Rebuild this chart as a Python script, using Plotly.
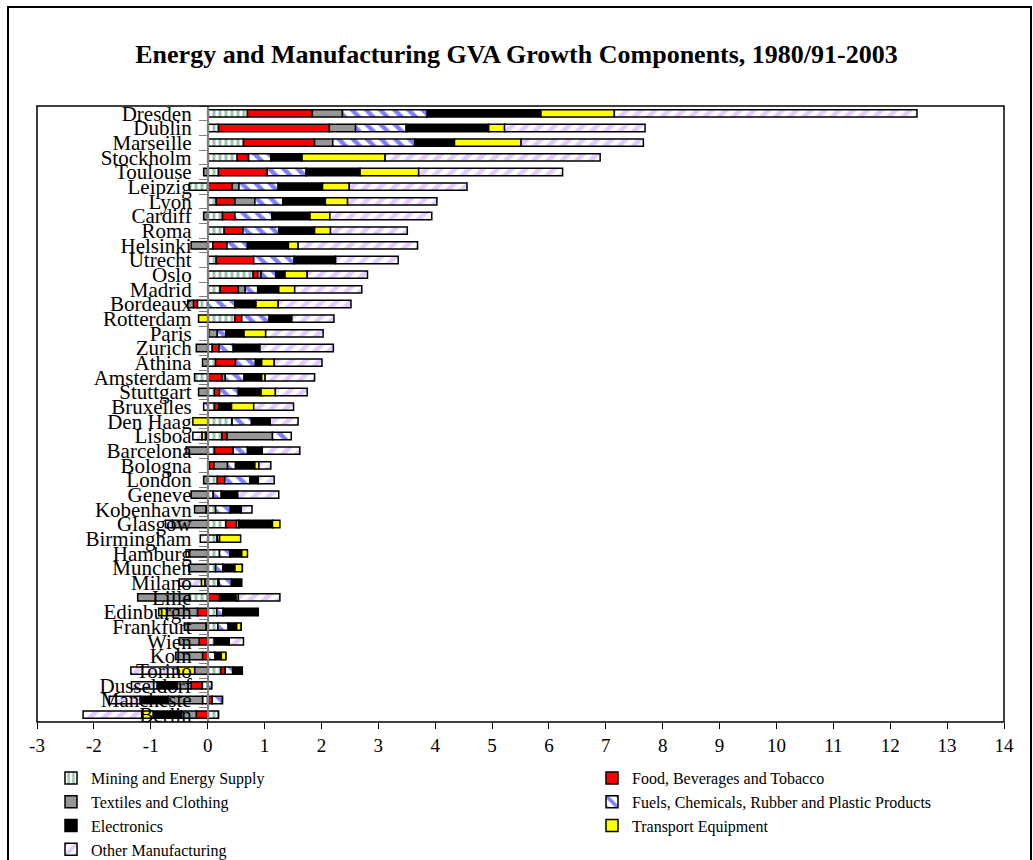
import plotly.graph_objects as go

cities = ["Dresden", "Dublin", "Marseille", "Stockholm", "Toulouse", "Leipzig", "Lyon", "Cardiff",
          "Roma", "Helsinki", "Utrecht", "Oslo", "Madrid", "Bordeaux", "Rotterdam", "Paris", "Zurich",
          "Athina", "Amsterdam", "Stuttgart", "Bruxelles", "Den Haag", "Lisboa", "Barcelona", "Bologna",
          "London", "Geneve", "Kobenhavn", "Glasgow", "Birmingham", "Hamburg", "Munchen", "Milano",
          "Lille", "Edinburgh", "Frankfurt", "Wien", "Koln", "Torino", "Dusseldorf", "Mancheste", "Berlin"]

mining = [0.70, 0.19, 0.63, 0.52, 0.19, -0.32, 0.15, 0.26, 0.29, 0.09, 0.15, 0.80, 0.22, -0.18, 0.48, 0.02,
          0.08, 0.14, -0.23, 0.12, 0.12, 0.43, 0.25, 0.12, 0.03, 0.17, 0.10, 0.14, 0.32, 0.17, 0.21, 0.14,
          0.18, -0.32, 0.16, 0.18, 0.12, 0.0, 0.23, -0.10, -0.09, 0.19]
food = [1.14, 1.95, 1.25, 0.20, 0.86, 0.43, 0.33, 0.22, 0.33, 0.25, 0.66, 0.08, 0.32, -0.07, 0.12, 0.0,
        0.12, 0.35, 0.25, 0.09, 0.08, 0.0, 0.09, 0.33, 0.08, 0.13, 0.0, -0.03, 0.19, 0.0, 0.0, 0.0,
        0.02, 0.21, -0.18, -0.03, -0.15, -0.09, 0.08, -0.19, 0.08, -0.20]
textiles = [0.53, 0.46, 0.32, 0.0, -0.07, 0.12, 0.35, -0.07, 0.0, -0.29, 0.0, 0.06, 0.12, -0.10, 0.0, 0.15,
            -0.20, -0.09, 0.06, -0.16, 0.0, 0.0, 0.80, -0.38, 0.24, -0.07, -0.29, -0.20, -0.62, 0.0, -0.32, -0.33,
            -0.05, -0.91, -0.53, -0.38, -0.35, -0.47, -0.23, -0.25, -0.60, -0.26]
fuels = [1.49, 0.89, 1.44, 0.39, 0.68, 0.69, 0.49, 0.65, 0.63, 0.36, 0.71, 0.26, 0.22, 0.48, 0.48, 0.15,
         0.25, 0.35, 0.33, 0.33, -0.07, 0.34, 0.33, 0.25, 0.14, 0.44, 0.14, 0.26, 0.04, 0.04, 0.18, 0.13,
         0.22, 0.0, 0.11, 0.18, 0.0, 0.13, 0.13, 0.07, 0.18, 0.0]
electronics = [2.00, 1.45, 0.70, 0.55, 0.95, 0.78, 0.75, 0.67, 0.63, 0.72, 0.73, 0.16, 0.37, 0.37, 0.40, 0.32,
               0.47, 0.11, 0.31, 0.40, 0.22, 0.33, -0.04, 0.26, 0.34, 0.15, 0.29, 0.19, 0.59, 0.0, 0.21, 0.21,
               0.18, 0.29, 0.62, 0.15, 0.26, 0.11, 0.17, -0.35, -0.50, -0.50]
transport = [1.29, 0.28, 1.17, 1.46, 1.03, 0.47, 0.39, 0.35, 0.28, 0.17, 0.0, 0.39, 0.28, 0.39, -0.16, 0.38,
             0.0, 0.22, 0.06, 0.25, 0.39, -0.26, -0.06, 0.0, 0.07, 0.0, 0.0, 0.0, 0.13, 0.37, 0.10, 0.13,
             -0.06, 0.04, -0.15, 0.08, 0.0, 0.08, -0.30, 0.0, 0.0, -0.20]
other = [5.32, 2.47, 2.15, 3.78, 2.53, 2.07, 1.57, 1.79, 1.35, 2.10, 1.10, 1.06, 1.18, 1.28, 0.74, 1.01,
         1.29, 0.84, 0.87, 0.56, 0.70, 0.49, -0.16, 0.66, 0.21, 0.28, 0.72, 0.19, -0.12, -0.13, -0.06, 0.0,
         -0.39, 0.73, 0.0, 0.0, 0.25, 0.0, -0.82, -0.45, -0.54, -1.03]

x_ticks = list(range(-3, 15))

series = [
    ("Mining and Energy Supply", mining, "legend", dict(color="white", pattern=dict(shape="|", fgcolor="#2E8B57", bgcolor="white", size=6, solidity=0.5))),
    ("Food, Beverages and Tobacco", food, "legend2", dict(color="#FF0000")),
    ("Textiles and Clothing", textiles, "legend", dict(color="#969696")),
    ("Fuels, Chemicals, Rubber and Plastic Products", fuels, "legend2", dict(color="white", pattern=dict(shape="\\", fgcolor="#0000FF", bgcolor="white", size=10, solidity=0.45))),
    ("Electronics", electronics, "legend", dict(color="#000000")),
    ("Transport Equipment", transport, "legend2", dict(color="#FFFF00")),
    ("Other Manufacturing", other, "legend", dict(color="white", pattern=dict(shape="/", fgcolor="#CC99FF", bgcolor="white", size=10, solidity=0.5))),
]

fig = go.Figure()
for name, vals, leg, marker in series:
    m = dict(marker)
    m["line"] = dict(color="black", width=1.5)
    fig.add_trace(go.Bar(name=name, y=cities, x=vals, orientation="h", marker=m, legend=leg))

FONT = "Liberation Serif"
W, H = 1033, 860
L, R, T, B = 37, 29, 106, 138
pw, ph = W - L - R, H - T - B

def px2x(px):
    return (px - L) / pw

def py2y(py):
    return (H - B - py) / ph

fig.update_layout(
    width=W, height=H,
    margin=dict(l=L, r=R, t=T, b=B, autoexpand=False),
    paper_bgcolor="white", plot_bgcolor="white",
    barmode="relative", bargap=0.5,
    font=dict(family=FONT, color="black"),
    title=dict(text="<b>Energy and Manufacturing GVA Growth Components, 1980/91-2003</b>",
               font=dict(family=FONT, size=26, color="black"),
               x=0.5, xref="container", xanchor="center", y=1 - 54 / H, yanchor="middle"),
    xaxis=dict(range=[-3, 14], tickvals=x_ticks, ticktext=[str(v) for v in x_ticks],
               showgrid=False, zeroline=False, showline=False,
               ticks="outside", ticklen=6, tickcolor="black", tickwidth=1,
               tickfont=dict(family=FONT, size=19, color="black")),
    yaxis=dict(type="category", categoryorder="array", categoryarray=cities, autorange="reversed",
               tickmode="array", tickvals=cities, ticktext=cities,
               anchor="free", position=3 / 17, showgrid=False, zeroline=False,
               showline=True, linecolor="#808080", linewidth=1.5,
               ticks="outside", ticklen=8, tickcolor="#808080", tickson="boundaries",
               ticklabelstandoff=11,
               tickfont=dict(family=FONT, size=21, color="black")),
    legend=dict(x=px2x(51), y=py2y(761), xanchor="left", yanchor="top", orientation="v",
                font=dict(family=FONT, size=16, color="black"), bgcolor="rgba(0,0,0,0)", traceorder="normal"),
    legend2=dict(x=px2x(592), y=py2y(761), xanchor="left", yanchor="top", orientation="v",
                 font=dict(family=FONT, size=16, color="black"), bgcolor="rgba(0,0,0,0)", traceorder="normal"),
    shapes=[
        dict(type="rect", xref="paper", yref="paper", x0=0, x1=1, y0=0, y1=1,
             line=dict(color="black", width=1.5), layer="above"),
        dict(type="rect", xref="paper", yref="paper", x0=px2x(8), x1=px2x(1031), y0=py2y(7), y1=py2y(900),
             line=dict(color="black", width=2), layer="above"),
    ],
)

fig.write_html("out.html", config={"displayModeBar": False},
               post_script="document.body.style.margin='0px';document.body.style.overflow='hidden';")
